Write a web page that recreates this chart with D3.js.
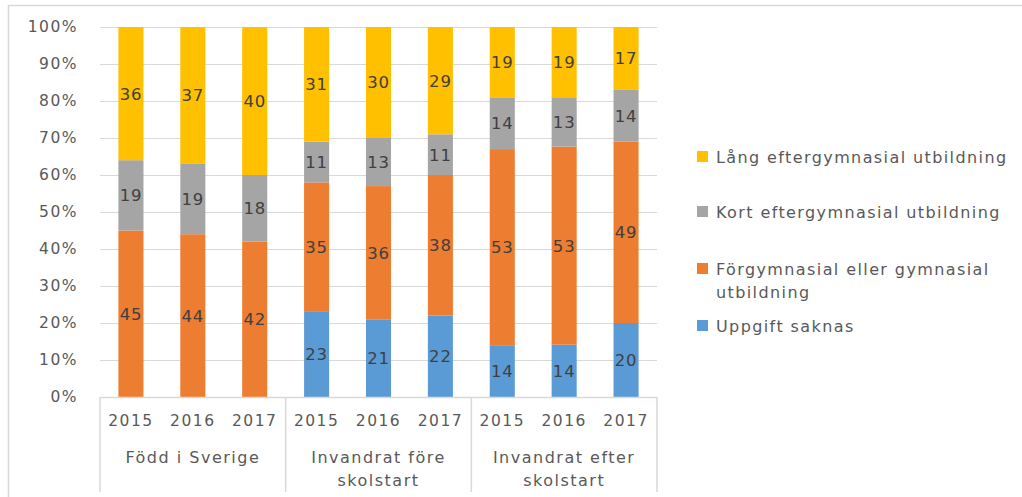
<!DOCTYPE html>
<html lang="sv">
<head>
<meta charset="utf-8">
<title>Utbildningsnivå</title>
<style>
  body { margin: 0; background: #fff; }
  text { font-family: "DejaVu Sans", sans-serif; }
</style>
</head>
<body>
<div id="chart"></div>
<script src="https://cdnjs.cloudflare.com/ajax/libs/d3/7.8.5/d3.min.js"></script>
<script>
// groups and years on the x axis
const groups = [["Född i Sverige"], ["Invandrat före", "skolstart"], ["Invandrat efter", "skolstart"]];
const years = ["2015", "2016", "2017"];

// series, bottom to top; one value per bar (9 bars)
const seriesNames = ["Uppgift saknas", "Förgymnasial eller gymnasial utbildning", "Kort eftergymnasial utbildning", "Lång eftergymnasial utbildning"];
const uppgift = [0, 0, 0, 23, 21, 22, 14, 14, 20];
const forgym  = [45, 44, 42, 35, 36, 38, 53, 53, 49];
const kort    = [19, 19, 18, 11, 13, 11, 14, 13, 14];
const lang    = [36, 37, 40, 31, 30, 29, 19, 19, 17];
const yTicks = [0, 10, 20, 30, 40, 50, 60, 70, 80, 90, 100];

const colors = ["#5B9BD5", "#ED7D31", "#A5A5A5", "#FFC000"];

const W = 1022, H = 497;
const svg = d3.select("#chart").append("svg")
  .attr("width", W).attr("height", H);

// outer frame
svg.append("path")
  .attr("d", "M8.5,497 V5.5 H1022")
  .attr("fill", "none").attr("stroke", "#d9d9d9").attr("stroke-width", 1.5);

const plotL = 100, plotR = 657, plotT = 27, plotB = 397;

const bars = [];
groups.forEach((g, gi) => years.forEach((yr, yi) => bars.push({ key: gi + "-" + yr, g: gi, yr: yr })));

const x = d3.scaleBand().domain(bars.map(d => d.key)).range([plotL, plotR]).paddingInner(0.595).paddingOuter(0.2975);
const y = d3.scaleLinear().domain([0, 100]).range([plotB, plotT]);

// gridlines
svg.append("g").selectAll("line").data(yTicks).join("line")
  .attr("x1", plotL).attr("x2", plotR)
  .attr("y1", d => y(d) + 0.5).attr("y2", d => y(d) + 0.5)
  .attr("stroke", "#d9d9d9").attr("stroke-width", 1);

// y axis labels
const yAxis = svg.append("g").attr("transform", `translate(${plotL},0)`)
  .call(d3.axisLeft(y).tickValues(yTicks).tickFormat(d => d + "%").tickSize(0).tickPadding(22));
yAxis.select(".domain").remove();
yAxis.selectAll("text")
  .attr("font-family", "DejaVu Sans").attr("font-size", 15.5)
  .attr("letter-spacing", 1.5).attr("fill", "#595959");

// stacked data
const rows = bars.map((b, i) => ({ key: b.key, s0: uppgift[i], s1: forgym[i], s2: kort[i], s3: lang[i] }));
const stack = d3.stack().keys(["s0", "s1", "s2", "s3"]).offset(d3.stackOffsetExpand);
const stacked = stack(rows);

const layer = svg.append("g").selectAll("g").data(stacked).join("g")
  .attr("fill", (d, i) => colors[i]);

layer.selectAll("rect").data(d => d.filter(p => p[1] - p[0] > 0)).join("rect")
  .attr("x", d => x(d.data.key))
  .attr("width", x.bandwidth())
  .attr("y", d => y(d[1] * 100))
  .attr("height", d => y(d[0] * 100) - y(d[1] * 100));

// value labels
svg.append("g").selectAll("g").data(stacked).join("g")
  .each(function (s) {
    d3.select(this).selectAll("text").data(s.filter(p => p.data[s.key] > 0)).join("text")
      .attr("x", d => x(d.data.key) + x.bandwidth() / 2)
      .attr("y", d => y((d[0] + d[1]) / 2 * 100))
      .attr("dy", "0.36em")
      .attr("text-anchor", "middle")
      .attr("font-size", 16.5)
      .attr("letter-spacing", 0.8)
      .attr("fill", "#404040")
      .text(d => d.data[s.key]);
  });

// x axis: baseline, group separators, labels
const axisG = svg.append("g");
axisG.append("line").attr("x1", plotL).attr("x2", plotR).attr("y1", plotB + 0.5).attr("y2", plotB + 0.5)
  .attr("stroke", "#d9d9d9").attr("stroke-width", 1.5);

const groupX = d3.scaleLinear().domain([0, groups.length]).range([plotL, plotR]);
d3.range(groups.length + 1).forEach(i => {
  axisG.append("line")
    .attr("x1", groupX(i)).attr("x2", groupX(i))
    .attr("y1", plotB).attr("y2", 492)
    .attr("stroke", "#d9d9d9").attr("stroke-width", 1.5);
});

axisG.selectAll("text.year").data(bars).join("text")
  .attr("class", "year")
  .attr("x", d => x(d.key) + x.bandwidth() / 2)
  .attr("y", 420).attr("dy", "0.36em")
  .attr("text-anchor", "middle")
  .attr("font-size", 15.5).attr("letter-spacing", 1.5)
  .attr("fill", "#595959")
  .text(d => d.yr);

groups.forEach((lines, gi) => {
  const t = axisG.append("text")
    .attr("x", (groupX(gi) + groupX(gi + 1)) / 2)
    .attr("y", 457)
    .attr("text-anchor", "middle")
    .attr("font-size", 16).attr("letter-spacing", 1.5)
    .attr("fill", "#595959");
  lines.forEach((ln, li) => {
    t.append("tspan")
      .attr("x", (groupX(gi) + groupX(gi + 1)) / 2)
      .attr("y", 457 + li * 23)
      .attr("dy", "0.36em")
      .text(ln);
  });
});

// legend, top to bottom
const legendItems = [
  { i: 3, lines: ["Lång eftergymnasial utbildning"], y: 157 },
  { i: 2, lines: ["Kort eftergymnasial utbildning"], y: 212 },
  { i: 1, lines: ["Förgymnasial eller gymnasial", "utbildning"], y: 269 },
  { i: 0, lines: ["Uppgift saknas"], y: 326 }
];
const leg = svg.append("g");
legendItems.forEach(it => {
  leg.append("rect")
    .attr("x", 697).attr("y", it.y - 6).attr("width", 11).attr("height", 11)
    .attr("fill", colors[it.i]);
  const t = leg.append("text")
    .attr("font-size", 16).attr("letter-spacing", 1.4).attr("fill", "#595959");
  it.lines.forEach((ln, li) => {
    t.append("tspan").attr("x", 716).attr("y", it.y + li * 23).attr("dy", "0.36em").text(ln);
  });
});
</script>
</body>
</html>
